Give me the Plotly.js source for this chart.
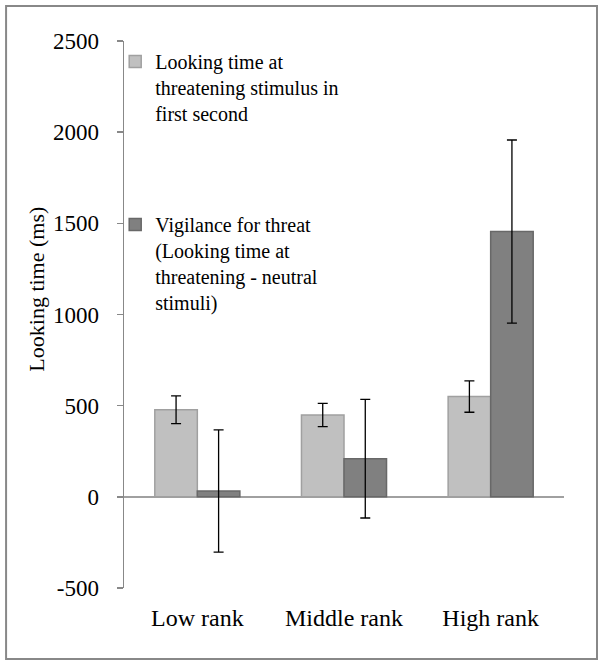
<!DOCTYPE html>
<html>
<head>
<meta charset="utf-8">
<script src="https://cdn.plot.ly/plotly-3.0.1.min.js"></script>
<style>html,body{margin:0;padding:0;background:#fff;}#chart{width:604px;height:667px;}</style>
</head>
<body>
<div id="chart"></div>
<script>
const categories = ['Low rank', 'Middle rank', 'High rank'];
const lookingTime = [478, 449, 550];
const lookingTimeErr = [76, 64, 86];
const vigilance = [32, 209, 1455];
const vigilanceErr = [335, 325, 502];
const yTicks = [-500, 0, 500, 1000, 1500, 2000, 2500];
const seriesNames = [
  ['Looking time at', 'threatening stimulus in', 'first second'],
  ['Vigilance for threat', '(Looking time at', 'threatening - neutral', 'stimuli)']
];

const FONT = 'Liberation Serif';
const serifName = lines => lines.map(l => '<span style="font-family:Liberation Serif">' + l + '</span>').join('<br>');

const traces = [
  {
    type: 'bar', x: categories, y: lookingTime, name: serifName(seriesNames[0]),
    marker: {color: '#c0c0c0', line: {color: '#a0a0a0', width: 1.5}},
    error_y: {type: 'data', array: lookingTimeErr, visible: true, color: '#000', thickness: 1.3, width: 5},
    legend: 'legend'
  },
  {
    type: 'bar', x: categories, y: vigilance, name: serifName(seriesNames[1]),
    marker: {color: '#808080', line: {color: '#686868', width: 1.5}},
    error_y: {type: 'data', array: vigilanceErr, visible: true, color: '#000', thickness: 1.3, width: 5},
    legend: 'legend2'
  }
];

const layout = {
  width: 604, height: 667,
  margin: {l: 124, r: 40, t: 41, b: 79},
  paper_bgcolor: '#fff', plot_bgcolor: '#fff',
  font: {family: FONT, color: '#000', size: 20},
  barmode: 'group', bargap: 0.42, bargroupgap: 0,
  showlegend: true,
  legend: {
    x: -0.02, y: 0.998, xanchor: 'left', yanchor: 'top', valign: 'top',
    bgcolor: 'rgba(0,0,0,0)', borderwidth: 0,
    font: {family: 'Times New Roman', size: 20, color: '#000'}
  },
  legend2: {
    x: -0.02, y: 0.70, xanchor: 'left', yanchor: 'top', valign: 'top',
    bgcolor: 'rgba(0,0,0,0)', borderwidth: 0,
    font: {family: 'Times New Roman', size: 20, color: '#000'}
  },
  xaxis: {
    type: 'category', showgrid: false, showline: false, zeroline: false,
    ticks: '', tickfont: {family: FONT, size: 24, color: '#000'},
    ticklabelstandoff: 13, fixedrange: true
  },
  yaxis: {
    range: [-500, 2500], tickvals: yTicks, ticktext: yTicks.map(String),
    showgrid: false, showline: true, linecolor: '#888', linewidth: 1.5,
    ticks: 'outside', ticklen: 6, tickcolor: '#888', tickwidth: 1.5,
    zeroline: true, zerolinecolor: '#a0a0a0', zerolinewidth: 2,
    tickfont: {family: FONT, size: 23, color: '#000'},
    ticklabelstandoff: 13, fixedrange: true
  },
  annotations: [{
    text: 'Looking time (ms)', textangle: -90, showarrow: false,
    xref: 'paper', yref: 'paper', x: -0.198, y: 0.547,
    xanchor: 'center', yanchor: 'middle',
    font: {family: FONT, size: 22, color: '#000'}
  }],
  shapes: [{
    type: 'rect', xref: 'paper', yref: 'paper',
    x0: -0.268, x1: 1.075, y0: -0.1298, y1: 1.064,
    line: {color: '#888', width: 2}, fillcolor: 'rgba(0,0,0,0)', layer: 'below'
  }]
};

Plotly.newPlot('chart', traces, layout, {displayModeBar: false, staticPlot: true});
</script>
</body>
</html>
